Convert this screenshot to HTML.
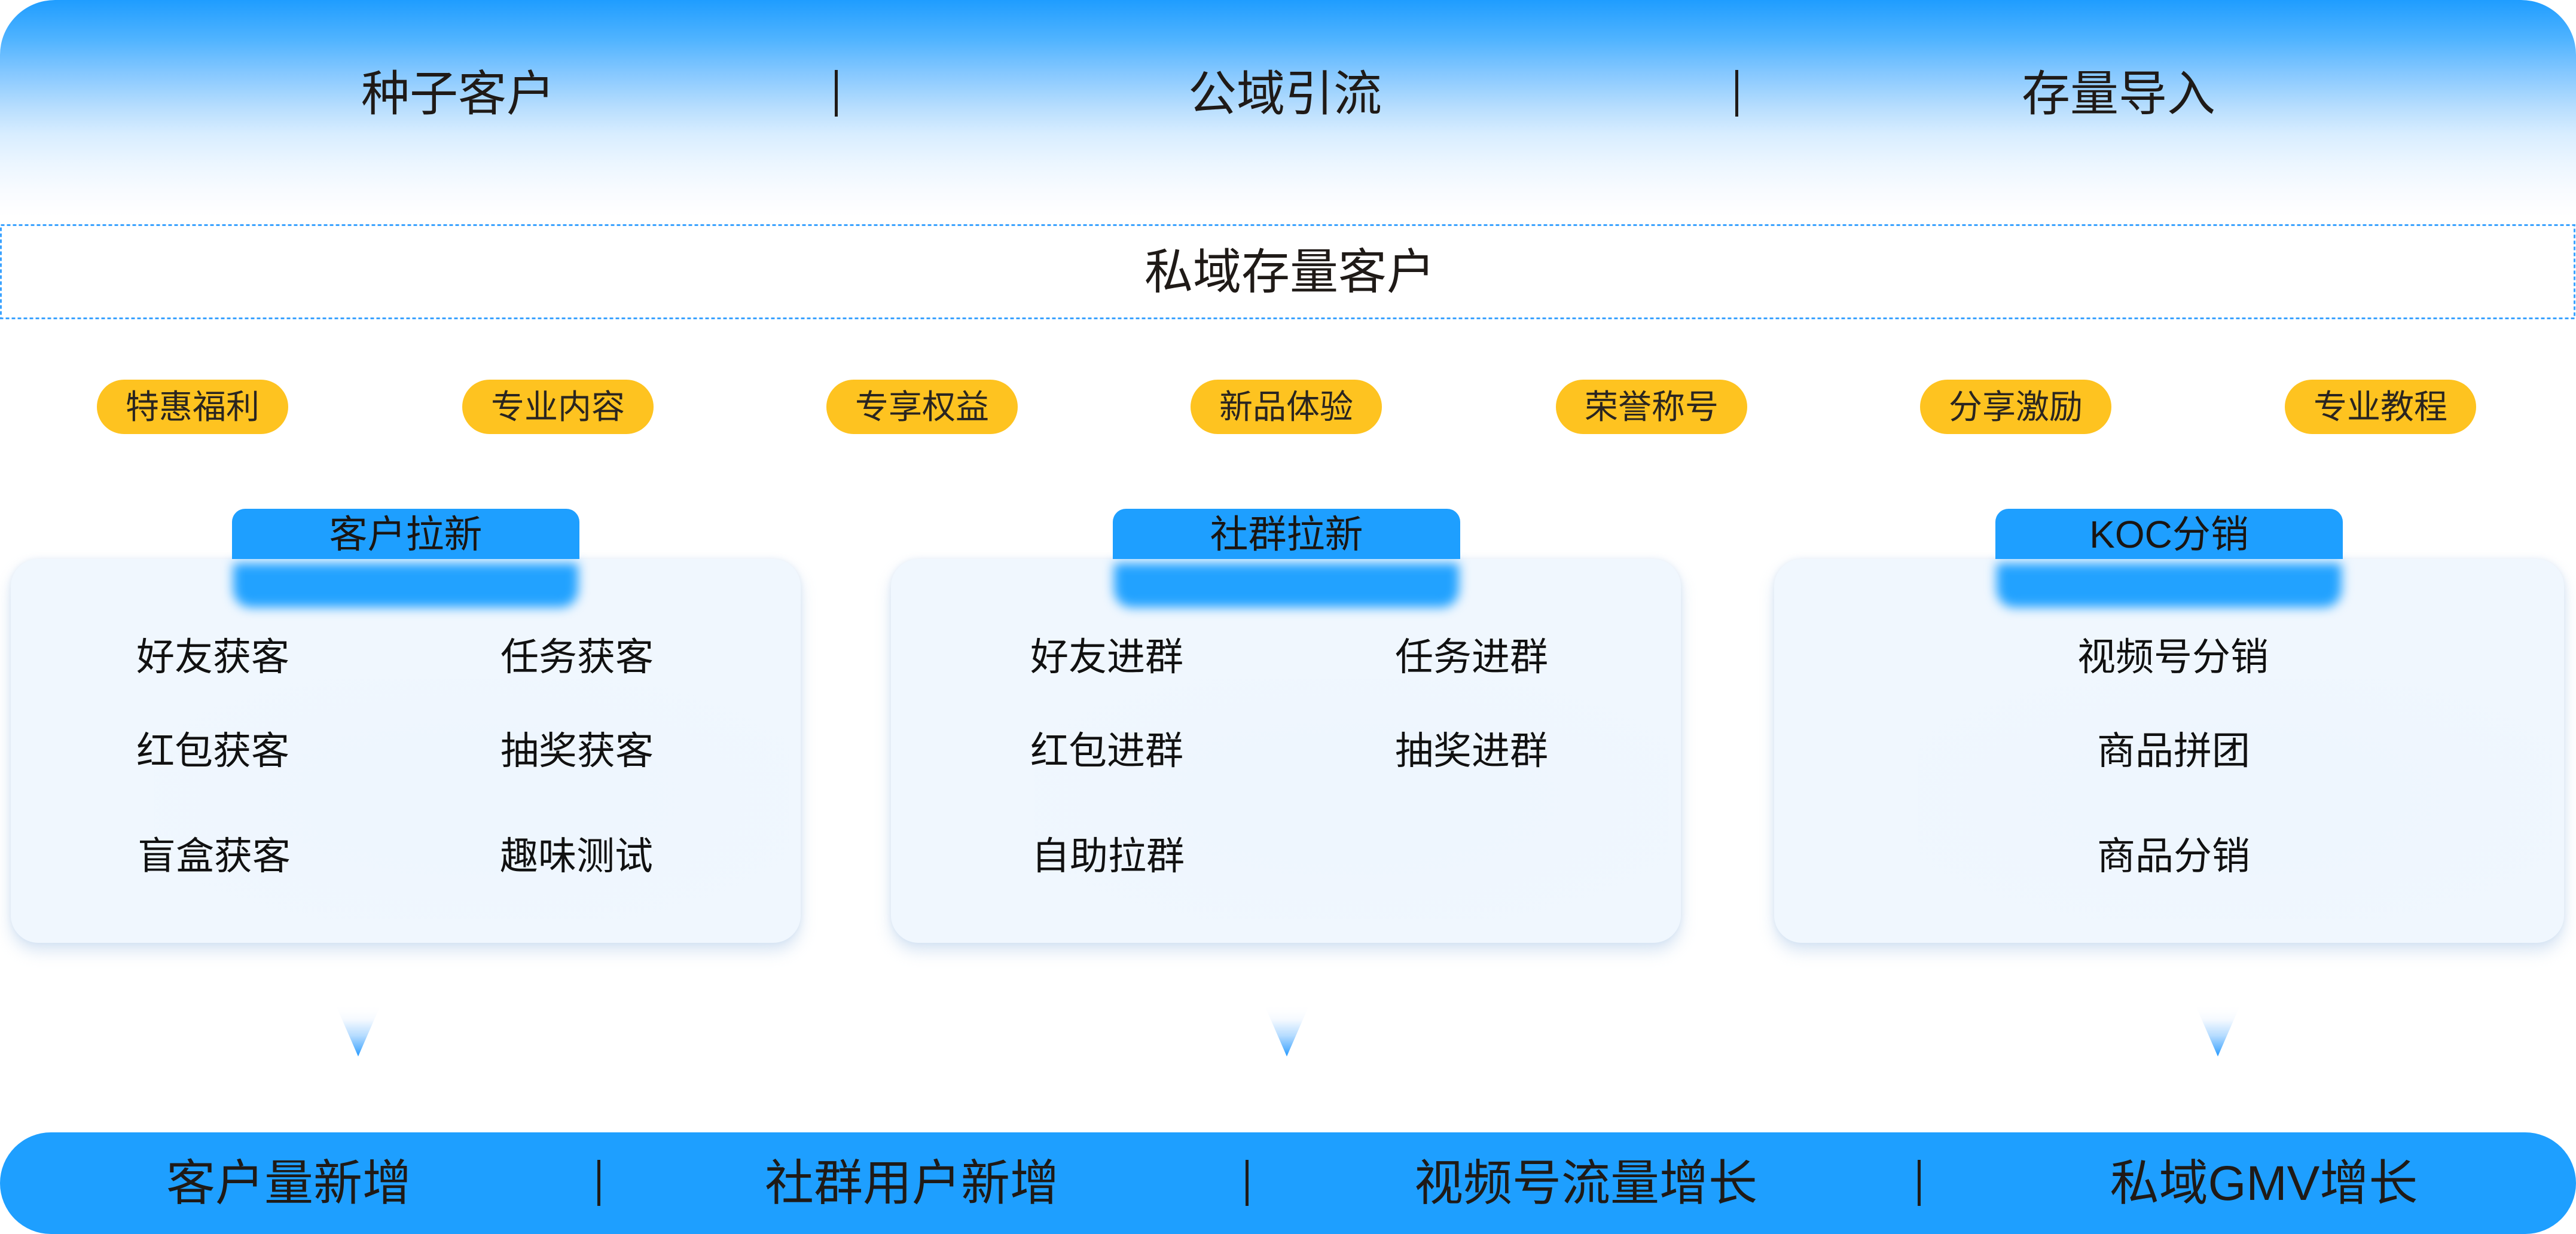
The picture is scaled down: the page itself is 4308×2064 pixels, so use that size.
<!DOCTYPE html>
<html>
<head>
<meta charset="utf-8">
<style>
  html,body{margin:0;padding:0;}
  body{width:4308px;height:2064px;position:relative;overflow:hidden;background:#ffffff;
    font-family:"Liberation Sans","Noto Sans CJK SC",sans-serif;color:#1f1a17;}
  .abs{position:absolute;}
  .t{position:absolute;white-space:nowrap;text-align:center;width:1000px;}
  .banner{left:0;top:0;width:4308px;height:362px;border-radius:92px 92px 0 0;
    background:linear-gradient(180deg,#1f9dff 0%,#4fb3ff 18%,#86c8ff 34%,#b8defe 50%,#d8edff 62%,#ecf6ff 76%,#f8fbff 88%,#ffffff 100%);}
  .sep{position:absolute;width:5px;background:#1f1a17;}
  .pill{position:absolute;top:635px;width:320px;height:91px;border-radius:46px;background:#fec320;
    font-size:56px;line-height:91px;text-align:center;color:#2a2520;white-space:nowrap;}
  .card{position:absolute;top:935px;width:1321px;height:642px;border-radius:46px;background:#f0f7fe;
    box-shadow:0 14px 26px rgba(170,200,230,0.45),0 0 10px rgba(190,210,235,0.35);}
  .card .inner{position:absolute;left:240px;top:200px;right:20px;bottom:40px;border-radius:120px;
    background:radial-gradient(ellipse at center,rgba(236,245,254,0.6),rgba(240,247,254,0));}
  .tab{position:absolute;top:851px;width:581px;height:84px;border-radius:22px 22px 0 0;background:#1e9fff;
    font-size:64px;line-height:86px;text-align:center;color:#1a1512;white-space:nowrap;}
  .glow{position:absolute;top:942px;width:577px;height:74px;border-radius:4px 4px 30px 30px;background:#22a2ff;filter:blur(9px);}
  .item{position:absolute;font-size:64px;line-height:80px;height:80px;white-space:nowrap;color:#111;}
  .bar{left:0;top:1894px;width:4308px;height:170px;border-radius:85px;background:#1e9fff;}
</style>
</head>
<body>

<!-- top banner -->
<div class="abs banner"></div>
<div class="t" style="left:266px;top:108px;font-size:81px;line-height:100px;">种子客户</div>
<div class="sep" style="left:1396px;top:117px;height:78px;"></div>
<div class="t" style="left:1649px;top:108px;font-size:81px;line-height:100px;">公域引流</div>
<div class="sep" style="left:2902px;top:117px;height:78px;"></div>
<div class="t" style="left:3043px;top:108px;font-size:81px;line-height:100px;">存量导入</div>

<!-- dotted box -->
<svg class="abs" style="left:0;top:0;" width="4308" height="560">
  <rect x="1.5" y="376.5" width="4304" height="156" fill="none" stroke="#3aa2ff" stroke-width="3" stroke-dasharray="6 4"/>
</svg>
<div class="t" style="left:1657px;top:406px;font-size:81px;line-height:100px;">私域存量客户</div>

<!-- pills -->
<div class="pill" style="left:162px;">特惠福利</div>
<div class="pill" style="left:773px;">专业内容</div>
<div class="pill" style="left:1382px;">专享权益</div>
<div class="pill" style="left:1991px;">新品体验</div>
<div class="pill" style="left:2602px;">荣誉称号</div>
<div class="pill" style="left:3211px;">分享激励</div>
<div class="pill" style="left:3821px;">专业教程</div>

<!-- cards -->
<div class="card" style="left:18px;"><div class="inner"></div></div>
<div class="card" style="left:1490px;"><div class="inner"></div></div>
<div class="card" style="left:2967px;"><div class="inner"></div></div>

<div class="glow" style="left:390px;"></div>
<div class="glow" style="left:1863px;"></div>
<div class="glow" style="left:3339px;"></div>

<div class="tab" style="left:388px;">客户拉新</div>
<div class="tab" style="left:1861px;">社群拉新</div>
<div class="tab" style="left:3337px;">KOC分销</div>

<!-- card 1 items -->
<div class="item" style="left:228px;top:1059px;">好友获客</div>
<div class="item" style="left:837px;top:1059px;">任务获客</div>
<div class="item" style="left:228px;top:1216px;">红包获客</div>
<div class="item" style="left:837px;top:1216px;">抽奖获客</div>
<div class="item" style="left:230px;top:1392px;">盲盒获客</div>
<div class="item" style="left:836px;top:1392px;">趣味测试</div>

<!-- card 2 items -->
<div class="item" style="left:1723px;top:1059px;">好友进群</div>
<div class="item" style="left:2333px;top:1059px;">任务进群</div>
<div class="item" style="left:1723px;top:1216px;">红包进群</div>
<div class="item" style="left:2333px;top:1216px;">抽奖进群</div>
<div class="item" style="left:1725px;top:1392px;">自助拉群</div>

<!-- card 3 items -->
<div class="item" style="left:3134px;top:1059px;width:1000px;text-align:center;">视频号分销</div>
<div class="item" style="left:3135px;top:1216px;width:1000px;text-align:center;">商品拼团</div>
<div class="item" style="left:3135px;top:1392px;width:1000px;text-align:center;">商品分销</div>

<!-- arrows -->
<svg class="abs" style="left:0;top:1660px;" width="4308" height="120">
  <defs>
    <linearGradient id="ag" x1="0" y1="0" x2="0" y2="1">
      <stop offset="0" stop-color="#ffffff" stop-opacity="0"/>
      <stop offset="0.3" stop-color="#f4f9ff"/>
      <stop offset="0.6" stop-color="#b6dcff"/>
      <stop offset="0.85" stop-color="#62b5ff"/>
      <stop offset="1" stop-color="#2398ff"/>
    </linearGradient>
  </defs>
  <polygon points="561,20 637,20 599,107" fill="url(#ag)"/>
  <polygon points="2114,20 2190,20 2152,107" fill="url(#ag)"/>
  <polygon points="3671,20 3747,20 3709,107" fill="url(#ag)"/>
</svg>

<!-- bottom bar -->
<div class="abs bar"></div>
<div class="t" style="left:-17px;top:1930px;font-size:82px;line-height:100px;">客户量新增</div>
<div class="sep" style="left:999px;top:1940px;height:77px;"></div>
<div class="t" style="left:1025px;top:1930px;font-size:82px;line-height:100px;">社群用户新增</div>
<div class="sep" style="left:2083px;top:1940px;height:77px;"></div>
<div class="t" style="left:2152px;top:1930px;font-size:82px;line-height:100px;">视频号流量增长</div>
<div class="sep" style="left:3207px;top:1940px;height:77px;"></div>
<div class="t" style="left:3286px;top:1930px;font-size:82px;line-height:100px;">私域GMV增长</div>

</body>
</html>
